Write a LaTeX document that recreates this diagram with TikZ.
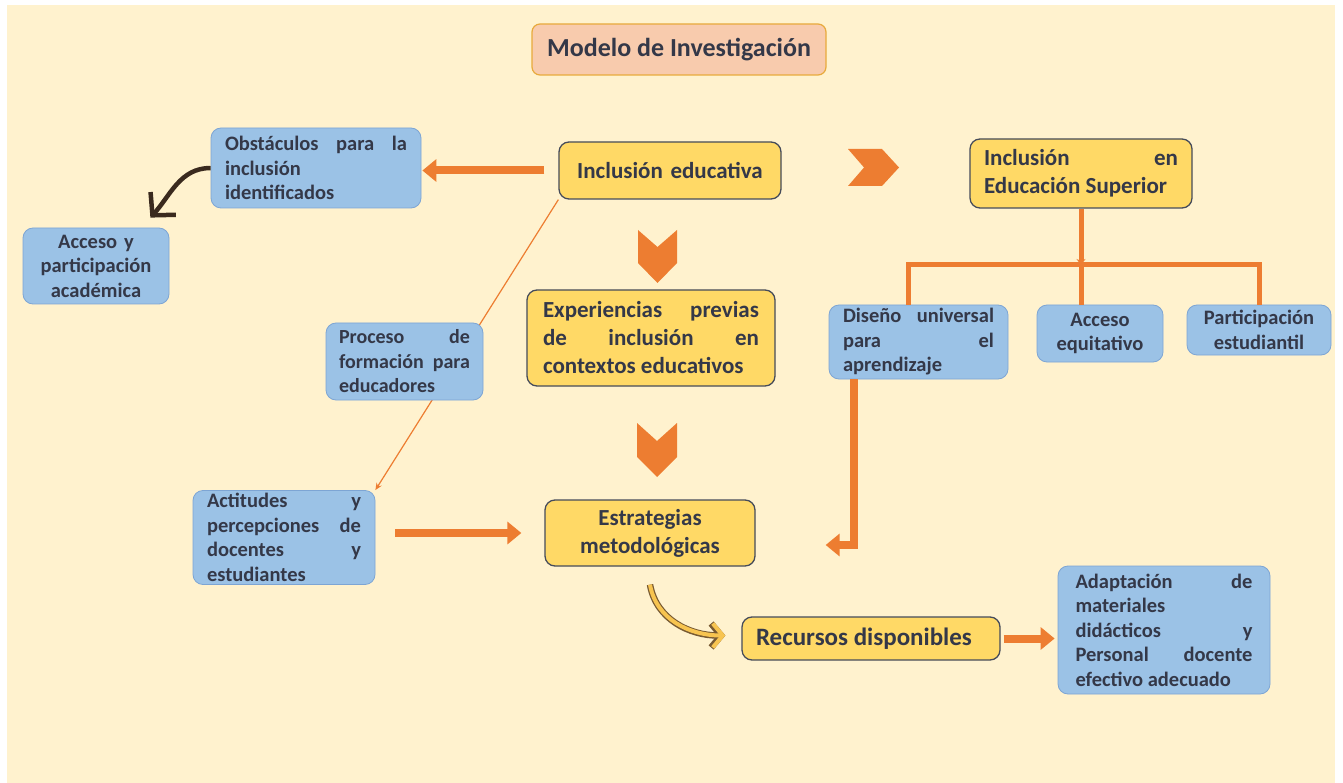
\documentclass[tikz,border=0pt]{standalone}
\usepackage{fontspec}
\setmainfont{Carlito}
\usepackage{xcolor}
\usepackage{tikz}
\usetikzlibrary{positioning, arrows.meta, backgrounds}

\definecolor{cream}{RGB}{255,242,206}
\definecolor{peach}{RGB}{248,203,173}
\definecolor{gold}{RGB}{232,170,60}
\definecolor{boxyellow}{RGB}{255,217,102}
\definecolor{boxblue}{RGB}{155,194,230}
\definecolor{blueline}{RGB}{125,165,212}
\definecolor{edgegray}{RGB}{70,76,90}
\definecolor{inkdark}{RGB}{52,56,72}
\definecolor{arroworange}{RGB}{237,125,49}
\definecolor{darkbrown}{RGB}{58,42,30}
\definecolor{softgold}{RGB}{247,196,80}
\definecolor{rimbrown}{RGB}{120,90,50}

\tikzstyle{titlebox} = [rectangle, rounded corners=8pt, draw=gold, line width=1.2pt, fill=peach, text=inkdark, font=\fontsize{26}{30}\selectfont\bfseries, minimum width=294pt, minimum height=51pt]
\tikzstyle{yellowbox} = [rectangle, rounded corners=10pt, draw=edgegray, line width=1.3pt, fill=boxyellow, text=inkdark, inner xsep=14pt, inner ysep=3pt, font=\fontsize{23}{28}\selectfont\bfseries]
\tikzstyle{bluebox} = [rectangle, rounded corners=10pt, draw=blueline, line width=0.8pt, fill=boxblue, text=inkdark, inner xsep=14pt, inner ysep=3pt, font=\fontsize{20.5}{24.5}\selectfont\bfseries]
\tikzstyle{thickarrow} = [arroworange, line width=8pt, -{Triangle[length=14pt,width=22pt]}]
\tikzstyle{thinarrow} = [arroworange, line width=1.2pt, -{Stealth[length=7pt,width=6pt]}]
\tikzstyle{brownarrow} = [darkbrown, line width=4.5pt, -{Straight Barb[length=16pt,width=34pt]}]
\tikzstyle{curvearrow} = [draw=softgold, line width=4pt, -{Straight Barb[length=10pt,width=24pt]}, preaction={draw=rimbrown, line width=6.5pt, -{Straight Barb[length=10pt,width=24pt]}}]
\tikzstyle{treeline} = [arroworange, line width=5pt]
\tikzstyle{chevron} = [fill=arroworange]

\begin{document}
\begin{tikzpicture}[x=1pt, y=1pt]
			\useasboundingbox (0,0) rectangle (1343,-783);
			% Nodes
			\node (title) [titlebox] at (679,-49.5) {Modelo de Investigación};
			
			\node (inc) [yellowbox, text width=194pt, align=center, minimum height=57pt] at (670,-170.5) {Inclusión educativa};
			\node (obst) [bluebox, text width=182pt, align=justify, minimum height=80pt] at (316,-168) {Obstáculos para la\linebreak inclusión\\identificados};
			\node (acc) [bluebox, text width=118pt, align=center, minimum height=76pt] at (96,-266) {Acceso y\\participación\\académica};
			\node (exp) [yellowbox, text width=216pt, align=justify, minimum height=96pt, inner xsep=16pt] at (651,-338) {Experiencias previas\linebreak de inclusión en\linebreak contextos educativos};
			\node (proc) [bluebox, text width=131pt, align=justify, minimum height=77pt, inner xsep=13pt, font=\fontsize{20}{24.5}\selectfont\bfseries] at (404.5,-361.5) {Proceso de\linebreak formación para\linebreak educadores};
			\node (act) [bluebox, text width=154pt, align=justify, minimum height=91pt] at (284,-537.5) {Actitudes y\linebreak percepciones de\linebreak docentes y\linebreak estudiantes};
			\node (est) [yellowbox, text width=182pt, align=center, minimum height=66pt] at (650,-533) {Estrategias\\metodológicas};
			\node (rec) [yellowbox, text width=230pt, align=justify, minimum height=43pt, font=\fontsize{25}{29}\selectfont\bfseries] at (871,-638.5) {Recursos disponibles};
			\node (adap) [bluebox, text width=177pt, align=justify, minimum height=128pt, inner xsep=17.5pt] at (1164,-630) {Adaptación de\linebreak materiales\\didácticos y\linebreak Personal docente\linebreak efectivo adecuado};
			
			\node (sup) [yellowbox, text width=194pt, align=justify, minimum height=69pt] at (1081,-173.5) {Inclusión en\linebreak Educación Superior};
			\node (dis) [bluebox, text width=151pt, align=justify, minimum height=74pt] at (918.5,-342) {Diseño universal\linebreak para el\linebreak aprendizaje};
			\node (acceq) [bluebox, text width=98pt, align=center, minimum height=57pt] at (1100,-333.5) {Acceso\\equitativo};
			\node (part) [bluebox, text width=116pt, align=center, minimum height=50pt] at (1259,-330) {Participación\\estudiantil};
			\coordinate (fork) at (1081,-265);
			
			% Background and thin line
			\begin{scope}[on background layer]
				\fill[white] (0,0) rectangle (1343,-783);
				\fill[cream] (7,-5) rectangle (1335,-783);
				\draw [thinarrow] (inc.south west) -- (act.north east);
			\end{scope}
			
			% Chevrons
			\fill[chevron] (848,-149) -- (882,-149) -- (899,-167.5) -- (882,-186) -- (848,-186) -- (864,-167.5) -- cycle;
			\fill[chevron] (638,-230) -- (657.5,-247) -- (677,-230) -- (677,-263) -- (657.5,-283) -- (638,-263) -- cycle;
			\fill[chevron] (637,-423) -- (657,-441) -- (677,-423) -- (677,-457) -- (657,-477) -- (637,-457) -- cycle;
			
			% Arrows
			\draw [thickarrow, shorten <=14pt, shorten >=1pt] (inc.west) -- (inc.west -| obst.east);
			\draw [brownarrow] (obst.west) to[out=180, in=48] ([xshift=-19pt, yshift=10pt]acc.north east);
			\draw [thickarrow, shorten <=20pt, shorten >=23pt] (act.east |- est.west) -- (est.west);
			\draw [thickarrow] ([xshift=-65pt]dis.south) |- ([xshift=70pt, yshift=-12pt]est.east);
			\draw [curvearrow] ([yshift=-18pt]est.south) to[out=-80, in=180] ([xshift=-16pt, yshift=3pt]rec.west);
			\draw [thickarrow, shorten <=3pt, shorten >=3pt] (rec.east) -- (rec.east -| adap.west);
			
			\draw [treeline, -{Stealth[length=6pt, width=9pt]}] (sup.south) -- (fork);
			\draw [treeline] ([xshift=-10pt]dis.north) |- (fork) -| (part.north);
			\draw [treeline] (fork) -- (fork |- acceq.north);
		\end{tikzpicture}
\end{document}
